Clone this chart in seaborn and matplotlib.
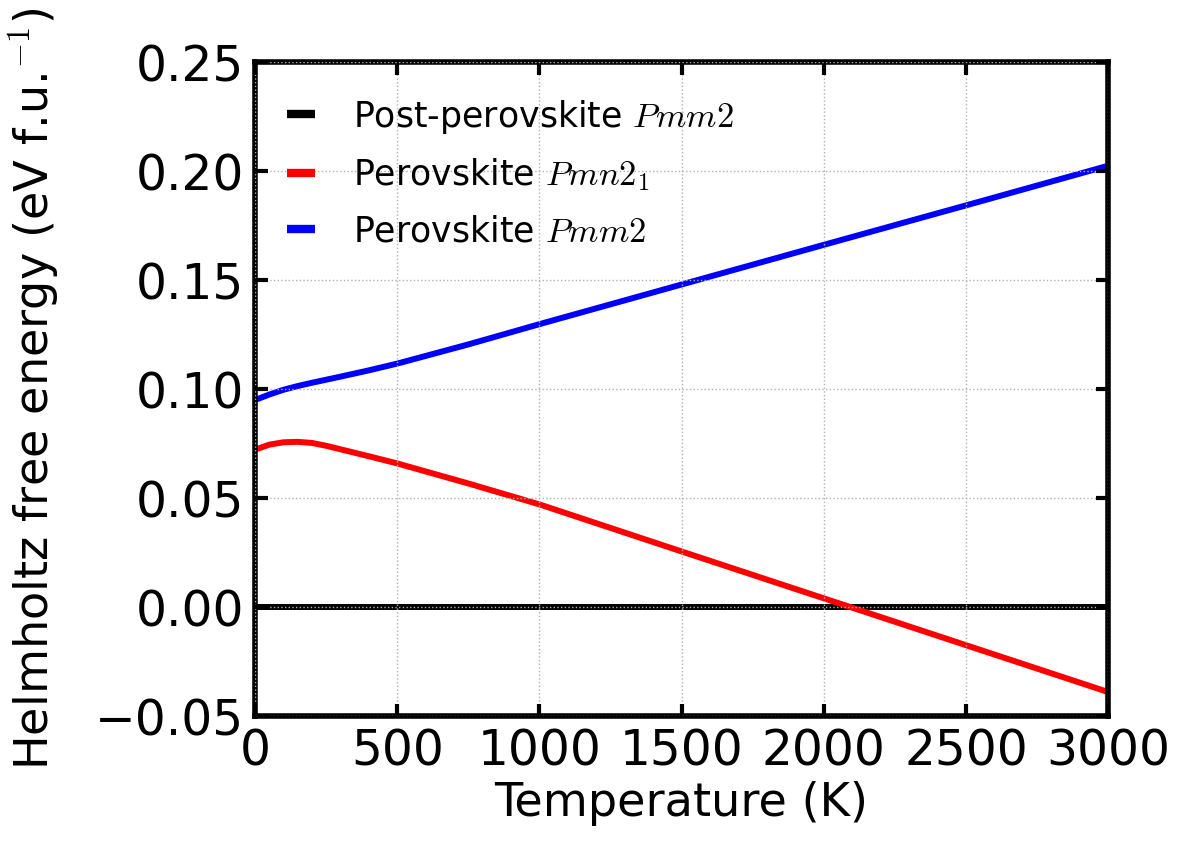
import pandas as pd
import matplotlib
matplotlib.use("Agg")
import matplotlib.pyplot as plt
import seaborn as sns

# values (eV per formula unit)
temps = [0, 50, 100, 150, 200, 250, 300, 400, 500, 750, 1000, 1500, 2000, 2500, 3000]
post_pmm2 = [0.0] * len(temps)
perov_pmn21 = [0.0722, 0.0745, 0.0756, 0.0758, 0.0753, 0.0740, 0.0724, 0.0692,
               0.0659, 0.0567, 0.0471, 0.0255, 0.0040, -0.0175, -0.0390]
perov_pmm2 = [0.0950, 0.0975, 0.0997, 0.1014, 0.1029, 0.1043, 0.1057, 0.1086,
              0.1117, 0.1205, 0.1298, 0.1480, 0.1662, 0.1843, 0.2025]

labels = ["Post-perovskite $Pmm2$", "Perovskite $Pmn2_1$", "Perovskite $Pmm2$"]
colors = ["black", "red", "blue"]

frames = []
for lab, vals in zip(labels, [post_pmm2, perov_pmn21, perov_pmm2]):
    frames.append(pd.DataFrame({"T": temps, "F": vals, "phase": lab}))
df = pd.concat(frames, ignore_index=True)

sns.set_style("ticks")
plt.rcParams["font.family"] = ["DejaVu Sans"]
plt.rcParams["mathtext.fontset"] = "cm"
plt.rcParams["axes.axisbelow"] = False
plt.rcParams["text.color"] = "black"
plt.rcParams["axes.labelcolor"] = "black"
plt.rcParams["xtick.color"] = "black"
plt.rcParams["ytick.color"] = "black"

fig = plt.figure(figsize=(12, 8.58), dpi=100)
ax = fig.add_axes([0.2125, 0.1655, 0.711, 0.762])

sns.lineplot(data=df, x="T", y="F", hue="phase", hue_order=labels,
             palette=dict(zip(labels, colors)), ax=ax)
for ln in ax.lines:
    ln.set_linewidth(4.3)
    ln.set_solid_joinstyle("round")

ax.set_xlim(0, 3000)
ax.set_ylim(-0.05, 0.25)
ax.set_xticks(range(0, 3001, 500))
ax.set_yticks([-0.05, 0.0, 0.05, 0.10, 0.15, 0.20, 0.25])
ax.set_yticklabels(["\u22120.05", "0.00", "0.05", "0.10", "0.15", "0.20", "0.25"])
ax.grid(True, color="#b0b0b0", linestyle=":", linewidth=1.0)

for s in ax.spines.values():
    s.set_linewidth(4)
    s.set_color("black")
ax.tick_params(direction="in", length=9, width=3, labelsize=35,
               top=True, right=True, pad=8, colors="black")

ax.set_xlabel("Temperature (K)", fontsize=33.3, labelpad=4)
ax.set_ylabel("Helmholtz free energy (eV f.u.$^{-1}$)", fontsize=33.3, labelpad=24)

leg = ax.legend(loc="upper left", frameon=False, fontsize=25,
                handlelength=0.8, handletextpad=1.1, labelspacing=0.6,
                borderaxespad=0.62, bbox_to_anchor=(-0.004, 1.0))
for h in leg.get_lines():
    h.set_linewidth(6)
    h.set_solid_capstyle("butt")

fig.savefig("out.png", dpi=100)
